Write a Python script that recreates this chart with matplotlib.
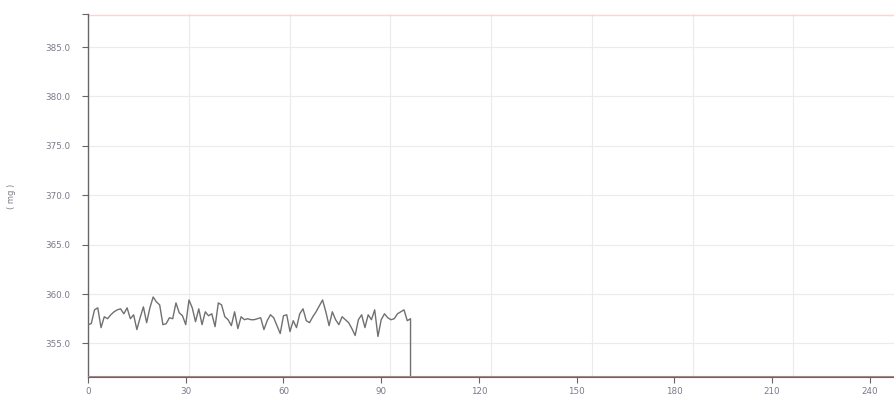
import matplotlib
matplotlib.use('Agg')
import matplotlib.pyplot as plt
from matplotlib.ticker import FixedLocator

# Readings (mg) at each sample, last entry is the drop to zero
times = list(range(100)) + [99]
weights = [
    356.9, 357.0, 358.4, 358.6, 356.6, 357.7, 357.5, 357.9, 358.2, 358.4,
    358.5, 358.0, 358.6, 357.5, 357.9, 356.4, 357.6, 358.7, 357.1, 358.6,
    359.7, 359.2, 358.9, 356.9, 357.0, 357.6, 357.5, 359.1, 358.1, 357.8,
    356.9, 359.4, 358.6, 357.2, 358.5, 356.9, 358.2, 357.8, 358.0, 356.7,
    359.1, 358.9, 357.7, 357.4, 356.8, 358.2, 356.5, 357.7, 357.4, 357.5,
    357.4, 357.4, 357.5, 357.6, 356.4, 357.3, 357.9, 357.6, 356.8, 356.0,
    357.8, 357.9, 356.2, 357.3, 356.6, 358.0, 358.5, 357.3, 357.1, 357.7,
    358.2, 358.8, 359.4, 358.2, 356.8, 358.2, 357.4, 356.9, 357.7, 357.4,
    357.1, 356.5, 355.8, 357.4, 357.9, 356.6, 357.9, 357.4, 358.4, 355.7,
    357.4, 358.0, 357.6, 357.4, 357.5, 358.0, 358.2, 358.4, 357.3, 357.5,
    0.0,
]

upper_limit = 388.2
lower_limit = 351.6
x_max = 247.4
x_ticks = [0, 30, 60, 90, 120, 150, 180, 210, 240]
y_ticks = [355, 360, 365, 370, 375, 380, 385]

fig = plt.figure(figsize=(8.94, 4.0), dpi=100)
ax = fig.add_axes([88 / 894, 23 / 400, 1 - 88 / 894, 363 / 400])

ax.plot(times, weights, color='#707070', linewidth=1.0, zorder=3)
ax.axhline(upper_limit, color='#fbd4d4', linewidth=1.0, zorder=2)
ax.axhline(lower_limit, color='#b58080', linewidth=1.5, zorder=4)

ax.set_xlim(0, x_max)
ax.set_ylim(lower_limit, upper_limit + 0.15)

ax.set_xticks(x_ticks)
ax.set_xticklabels([str(t) for t in x_ticks])
# extra unlabeled tick at the top of the axis
ax.set_yticks(y_ticks + [upper_limit + 0.15])
ax.set_yticklabels(['%.1f' % v for v in y_ticks] + [''])

# vertical grid splits the plot width in eight
ax.xaxis.set_minor_locator(FixedLocator([x_max / 8 * k for k in range(1, 8)]))
ax.grid(which='minor', axis='x', color='#ebebeb', linewidth=0.8)
ax.grid(which='major', axis='y', color='#ebebeb', linewidth=0.8)
ax.yaxis.get_gridlines()[-1].set_visible(False)
ax.tick_params(which='minor', length=0)
ax.tick_params(which='major', direction='out', length=4.5, width=0.8,
               color='#666666', labelsize=6.3, labelcolor='#7a7a8a')
ax.tick_params(axis='y', pad=8)
ax.tick_params(axis='x', pad=3)

for side in ['top', 'right']:
    ax.spines[side].set_visible(False)
ax.spines['left'].set_color('#666666')
ax.spines['left'].set_linewidth(1.0)
ax.spines['bottom'].set_color('#666666')

fig.text(12 / 894, 1 - 196 / 400, '( mg )', rotation=90, ha='center',
         va='center', fontsize=6, color='#7a7a8a')

plt.savefig('out.png', dpi=100)
